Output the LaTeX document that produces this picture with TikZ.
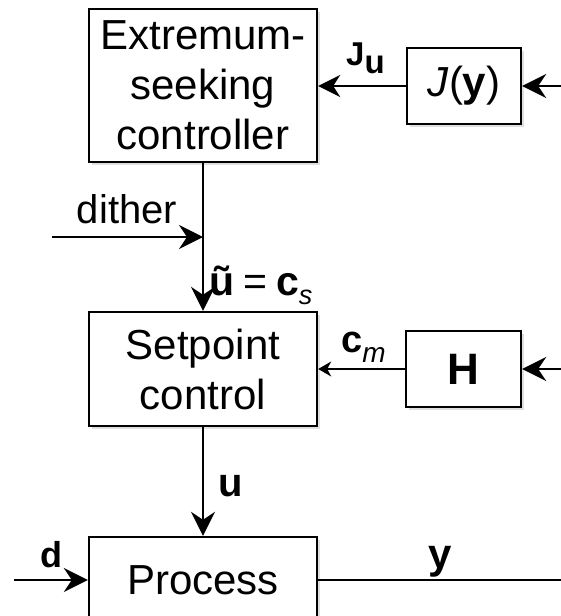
\documentclass[tikz,border=0pt]{standalone}
\usepackage{fontspec}
\setmainfont{Liberation Sans}
\usetikzlibrary{arrows.meta,shadows}
\begin{document}
\begin{tikzpicture}[x=1pt,y=-1pt,
  blk/.style={draw, line width=2.4pt, fill=white, inner sep=0pt, align=center,
    font=\fontsize{42}{50}\selectfont,
    drop shadow={opacity=0.25, shadow xshift=3pt, shadow yshift=-3pt}},
  bigarrow/.style={line width=2pt, -{Stealth[length=24pt,width=24pt,inset=8pt]}},
  midarrow/.style={line width=2pt, -{Stealth[length=22pt,width=22pt,inset=7pt]}},
  thinarrow/.style={line width=1.3pt, -{Stealth[length=13pt,width=15pt,inset=4pt]}},
  plain/.style={line width=2pt},
  lab/.style={inner sep=0pt}]
\useasboundingbox (0,0) rectangle (560,616);
% blocks
\node[blk, minimum width=228pt, minimum height=153pt] (esc) at (203,85.5) {Extremum-\\seeking\\controller};
\node[blk, minimum width=228pt, minimum height=114pt] (sp) at (203,369) {Setpoint\\control};
\node[blk, minimum width=228pt, minimum height=86pt] (proc) at (203,580) {Process};
\node[blk, minimum width=114pt, minimum height=76pt] (jy) at (464,86) {\textit{J}(\textbf{y})};
\node[blk, minimum width=115pt, minimum height=76pt, font=\fontsize{44}{50}\selectfont\bfseries] (hb) at (463.5,369) {H};
% free ends
\coordinate (jin) at (562,86);
\coordinate (hin) at (562,369);
\coordinate (dith) at (52,237);
\coordinate (din) at (14,580);
\coordinate (yout) at (562,580);
% connectors
\draw[bigarrow] (jin) -- (jy.east);
\draw[midarrow] (jy.west) -- (jy.west -| esc.east);
\draw[bigarrow] (esc.south) -- (sp.north);
\draw[bigarrow] (dith) -- (dith -| esc.south);
\draw[bigarrow] (hin) -- (hb.east);
\draw[thinarrow] (hb.west) -- (sp.east);
\draw[bigarrow] (sp.south) -- (proc.north);
\draw[bigarrow] (din) -- (proc.west);
\draw[plain] (proc.east) -- (yout);
% labels
\node[lab, anchor=base west] (ju) at (346,65) {\fontsize{33}{33}\selectfont\bfseries J\raisebox{-8pt}{u}};
\node[lab, font=\fontsize{40}{40}\selectfont] (dl) at (127,209) {dither};
\node[lab, anchor=base west] (cs) at (209,295) {\fontsize{41}{41}\selectfont\textbf{ũ}\hspace{9pt}=\hspace{9pt}\textbf{c}\raisebox{-9pt}{\fontsize{27}{27}\selectfont\itshape s}};
\node[lab, anchor=base west] (cm) at (341,352) {\fontsize{38}{38}\selectfont\textbf{c}\raisebox{-10pt}{\fontsize{28}{28}\selectfont\itshape m}};
\node[lab, font=\fontsize{40}{40}\selectfont\bfseries] (ul) at (231,486) {u};
\node[lab, font=\fontsize{36}{36}\selectfont\bfseries] (dlab) at (51,555) {d};
\node[lab, font=\fontsize{42}{42}\selectfont\bfseries] (yl) at (440,562) {y};
\end{tikzpicture}
\end{document}
